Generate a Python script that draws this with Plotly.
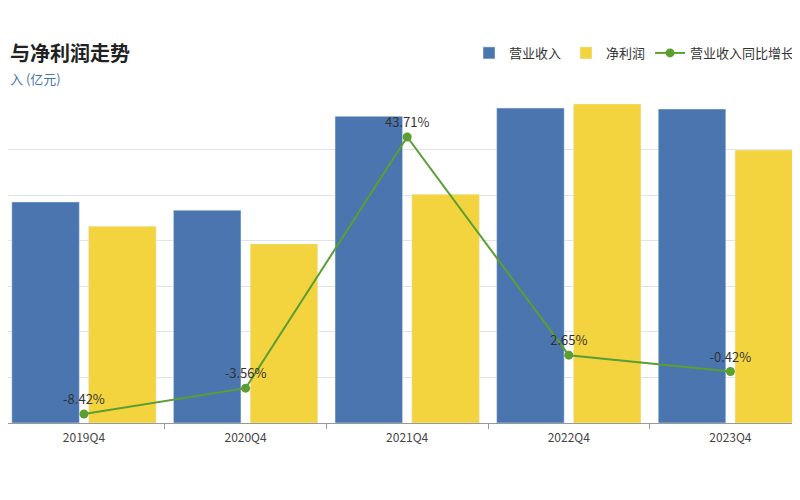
import plotly.graph_objects as go

quarters = ["2019Q4", "2020Q4", "2021Q4", "2022Q4", "2023Q4"]
revenue = [4.85, 4.67, 6.73, 6.91, 6.89]
profit = [4.32, 3.93, 5.02, 7.0, 5.99]
growth = [-8.42, -3.56, 43.71, 2.65, -0.42]
growth_labels = ["-8.42%", "-3.56%", "43.71%", "2.65%", "-0.42%"]

fig = go.Figure()
fig.add_bar(x=quarters, y=revenue, name="营业收入", marker_color="#4a75ae")
fig.add_bar(x=quarters, y=profit, name="净利润", marker_color="#f3d43f")
fig.add_scatter(x=quarters, y=growth, name="营业收入同比增长", yaxis="y2",
                mode="lines+markers+text", text=growth_labels, textposition="top center",
                textfont=dict(size=13, color="#333"),
                line=dict(color="#5b9e32", width=2), marker=dict(size=9, color="#5b9e32"))

fig.update_layout(
    width=800, height=500, plot_bgcolor="white", paper_bgcolor="white",
    margin=dict(l=0, r=0, t=96, b=85),
    font=dict(family="Noto Sans CJK SC", color="#333"),
    bargap=0.05, bargroupgap=0.12,
    xaxis=dict(range=[-0.47, 4.48], showline=True, linecolor="#999", ticks="outside", tickcolor="#999",
               tickfont=dict(size=12, color="#444"), tickson="boundaries", ticklabelstandoff=4),
    yaxis=dict(range=[0, 7], dtick=1, showticklabels=False, gridcolor="#e3e3e3", zeroline=False),
    yaxis2=dict(range=[-10.11, 49.92], overlaying="y", showticklabels=False, showgrid=False, zeroline=False),
    legend=dict(orientation="h", x=0.99, xanchor="right", y=1.16, yanchor="middle",
                font=dict(size=13, color="#333")),
    annotations=[
        dict(text="<b>与净利润走势</b>", xref="paper", yref="paper",
             x=0.0, xanchor="left", y=1.16, yanchor="middle",
             showarrow=False, font=dict(size=20, color="#222")),
        dict(text="入 (亿元)", xref="paper", yref="paper",
             x=0.0, xanchor="left", y=1.08, yanchor="middle",
             showarrow=False, font=dict(size=13, color="#4a75ae")),
    ],
)
fig.write_html("out.html")
